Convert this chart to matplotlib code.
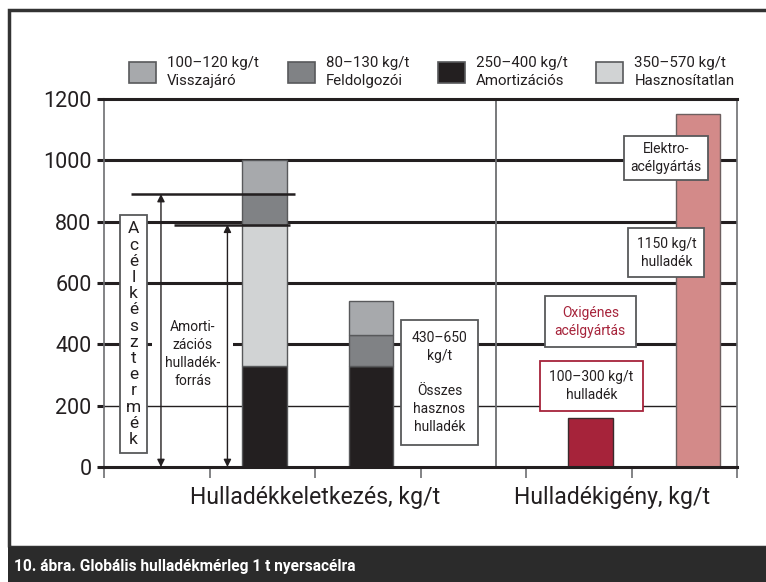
import matplotlib
matplotlib.use('Agg')
import matplotlib.pyplot as plt
from matplotlib.patches import Patch, Rectangle
import matplotlib.transforms as mtransforms

plt.rcParams['font.family'] = ['Roboto', 'DejaVu Sans']

# oszlopok helye (x tengely egységekben)
gen_x = [1.52, 2.53]          # hulladékkeletkezés
dem_x = [4.61, 5.63]          # hulladékigény
bar_w = 0.42

# halmozott oszlopok, kg/t (alulról felfelé)
amortizacios = [330, 330]
hasznositatlan = [460, 0]
feldolgozoi = [100, 100]
visszajaro = [110, 110]

# igény: oxigénes, elektro
igeny = [160, 1150]

acel_termek = 890     # acélkésztermék szint
amort_forras = 790    # amortizációs hulladékforrás szint

yticks = [0, 200, 400, 600, 800, 1000, 1200]

legend_labels = ['100–120 kg/t\nVisszajáró', '80–130 kg/t\nFeldolgozói',
                 '250–400 kg/t\nAmortizációs', '350–570 kg/t\nHasznosítatlan']

c_vissza = '#a7a9ac'
c_feld = '#808285'
c_amort = '#231f20'
c_haszn = '#d1d3d4'
c_oxi = '#a6233a'
c_elek = '#d38a89'
edge = '#58595b'
red = '#a6233a'
ink = '#231f20'

fig = plt.figure(figsize=(7.66, 5.82), dpi=100)

# keret és alsó sáv
fig.add_artist(Rectangle((9/766, 35/582), 1.0, 1 - 45/582, transform=fig.transFigure,
                         fill=False, edgecolor='#333333', lw=2.5))
fig.add_artist(Rectangle((8/766, 0), 1.0, 35/582, transform=fig.transFigure,
                         facecolor='#2b2b2b', edgecolor='none'))
fig.text(14/766, 16/582, '10. ábra. Globális hulladékmérleg 1 t nyersacélra',
         color='white', fontsize=11.2, fontweight='bold', va='center', ha='left')

ax = fig.add_axes([104/766, 1 - 467/582, (737 - 104)/766, (467 - 99)/582])
ax.set_xlim(0, 6)
ax.set_ylim(0, 1200)

# rácsvonalak
for y in yticks[1:-1]:
    ax.axhline(y, color=ink, lw=1.0 if y == 200 else 2.2, zorder=1)
ax.axvline(3.72, color='#6d6e71', lw=1.3, zorder=1)

# oszlopok
b = [0, 0]
for vals, col in [(amortizacios, c_amort), (hasznositatlan, c_haszn),
                  (feldolgozoi, c_feld), (visszajaro, c_vissza)]:
    ax.bar(gen_x, vals, bar_w, bottom=b, color=col, edgecolor=edge, lw=1, zorder=2)
    b = [p + q for p, q in zip(b, vals)]
ax.bar(dem_x, igeny, bar_w, color=[c_oxi, c_elek], edgecolor=['#3a2a2c', '#6d5f5f'],
       lw=1, zorder=2)

# szintvonalak
ax.hlines(acel_termek, 0.26, 1.81, color=ink, lw=1.8, zorder=3)
ax.hlines(amort_forras, 0.66, 1.76, color=ink, lw=1.8, zorder=3)

# szövegdobozok
def boxed(pad, ec='#58595b'):
    return dict(boxstyle='square,pad=%s' % pad, facecolor='white', edgecolor=ec, lw=1.3)

ax.text(0.279, 433, '\n'.join('Acélkésztermék'), ha='center', va='center',
        fontsize=12.5, linespacing=1.1, color=ink, bbox=boxed(0.35), zorder=3)
ax.text(0.84, 369, 'Amorti-\nzációs\nhulladék-\nforrás', ha='center', va='center',
        fontsize=10, linespacing=1.35, color=ink, zorder=3,
        bbox=dict(boxstyle='square,pad=0.9', facecolor='white', edgecolor='none'))
ax.text(3.18, 276, '430–650\nkg/t\n\nÖsszes\nhasznos\nhulladék', ha='center', va='center',
        fontsize=10, linespacing=1.35, color=ink, bbox=boxed(0.8), zorder=3)
ax.text(5.33, 1007, 'Elektro-\nacélgyártás', ha='center', va='center',
        fontsize=10, linespacing=1.35, color=ink, bbox=boxed(0.45), zorder=3)
ax.text(5.33, 699, '1150 kg/t\nhulladék', ha='center', va='center',
        fontsize=10, linespacing=1.35, color=ink, bbox=boxed(0.6), zorder=3)
ax.text(4.61, 474, 'Oxigénes\nacélgyártás', ha='center', va='center', color=red,
        fontsize=10, linespacing=1.35, bbox=boxed(0.7), zorder=3)
ax.text(4.62, 265, '100–300 kg/t\nhulladék', ha='center', va='center',
        fontsize=10, linespacing=1.35, color=ink, bbox=boxed(0.65, red), zorder=3)

# kétirányú nyilak
for x, top in [(0.54, acel_termek), (1.17, amort_forras)]:
    ax.annotate('', xy=(x, 0), xytext=(x, top), zorder=4,
                arrowprops=dict(arrowstyle='<|-|>', color=ink, lw=1,
                                mutation_scale=11, shrinkA=0, shrinkB=0))

# tengelyek
for s in ['left', 'right']:
    ax.spines[s].set_color('#6d6e71')
    ax.spines[s].set_linewidth(1.2)
for s in ['top', 'bottom']:
    ax.spines[s].set_color(ink)
    ax.spines[s].set_linewidth(2.2)
ax.set_yticks(yticks)
ax.set_yticklabels([str(v) for v in yticks], fontsize=15.5, color=ink)
ax.tick_params(axis='y', length=5, width=2.2, color=ink, pad=4)
ax.set_xticks(range(7))
ax.set_xticklabels([])
ax.tick_params(axis='x', length=8, width=1.2, color='#6d6e71')

trans = mtransforms.blended_transform_factory(ax.transData, ax.transAxes)
ax.text(2.0, -0.082, 'Hulladékkeletkezés, kg/t', transform=trans, ha='center', va='center',
        fontsize=16.6, color=ink)
ax.text(4.82, -0.082, 'Hulladékigény, kg/t', transform=trans, ha='center', va='center',
        fontsize=16.6, color=ink)

# jelmagyarázat
handles = [Patch(facecolor=c, edgecolor=edge, lw=1.2) for c in [c_vissza, c_feld, c_amort, c_haszn]]
leg = fig.legend(handles, legend_labels, ncol=4, loc='upper left',
                 bbox_to_anchor=(129/766, 1 - 56/582), frameon=False, fontsize=10.8,
                 handlelength=1.8, handleheight=1.8, handletextpad=0.75,
                 columnspacing=1.9, borderpad=0, borderaxespad=0, labelspacing=0)
for t in leg.get_texts():
    t.set_linespacing(1.35)
    t.set_color(ink)

fig.savefig('out.png', dpi=100)
